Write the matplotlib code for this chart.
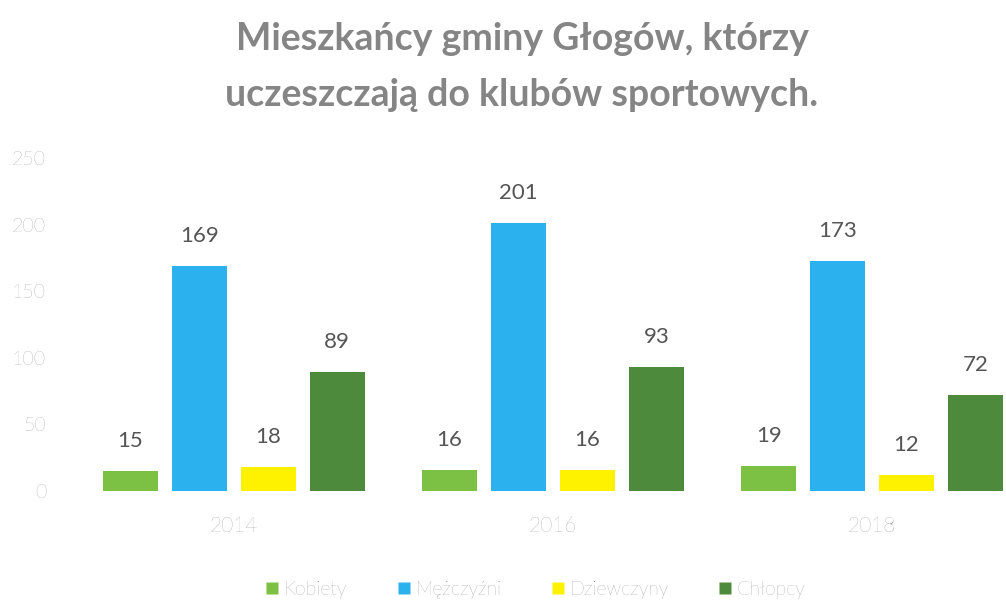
import matplotlib
matplotlib.use("Agg")
import matplotlib.pyplot as plt
import numpy as np

years = ["2014", "2016", "2018"]
series_names = ["Kobiety", "Mężczyźni", "Dziewczyny", "Chłopcy"]
kobiety = [15, 16, 19]
mezczyzni = [169, 201, 173]
dziewczyny = [18, 16, 12]
chlopcy = [89, 93, 72]
yticks = [0, 50, 100, 150, 200, 250]
title = "Mieszkańcy gminy Głogów, którzy\nuczeszczają do klubów sportowych."

colors = ["#7cc143", "#2bb1ee", "#fff200", "#4e8a3b"]
text_grey = "#7a7a7a"

plt.rcParams['font.family'] = ['Lato', 'DejaVu Sans']

fig = plt.figure(figsize=(10.06, 6.01), dpi=100)
ax = fig.add_axes([60/1006, 110/601, 946/1006, 333/601])

values = [kobiety, mezczyzni, dziewczyny, chlopcy]
x = np.arange(len(years))
step = 0.216
width = 0.172
for i, (name, vals, c) in enumerate(zip(series_names, values, colors)):
    pos = x + (i - 1.5) * step
    ax.bar(pos, vals, width=width, color=c, label=name, edgecolor='none')
    for p, v in zip(pos, vals):
        ax.text(p, v + 15, str(v), ha='center', va='bottom', fontsize=16,
                color='#555555')

ax.set_xlim(-0.545, 2.42)
ax.set_ylim(0, 250)
ax.set_yticks(yticks)
ax.set_yticklabels([str(t) for t in yticks], fontsize=14, color=text_grey, fontweight='light')
ax.set_xticks(x)
ax.set_xticklabels(years, fontsize=15, color=text_grey, fontweight='light')
ax.tick_params(axis='both', length=0)
ax.tick_params(axis='y', pad=10)
ax.tick_params(axis='x', pad=18)
for s in ax.spines.values():
    s.set_visible(False)

fig.text(522/1006, 1 - 67/601, title, ha='center', va='center', fontsize=27,
         fontweight='bold', color='#858585', linespacing=1.75)

handles = [plt.Line2D([], [], marker='s', linestyle='none', markersize=9,
                      markerfacecolor=c, markeredgecolor='none') for c in colors]
leg = fig.legend(handles, series_names, loc='center', bbox_to_anchor=(534/1006, 1 - 590/601),
                 ncol=4, frameon=False, handletextpad=0.1, columnspacing=2.4,
                 handlelength=1.0, prop={'size': 14, 'weight': 'light'})
for t in leg.get_texts():
    t.set_color(text_grey)

fig.savefig("out.png", dpi=100, facecolor='white')
